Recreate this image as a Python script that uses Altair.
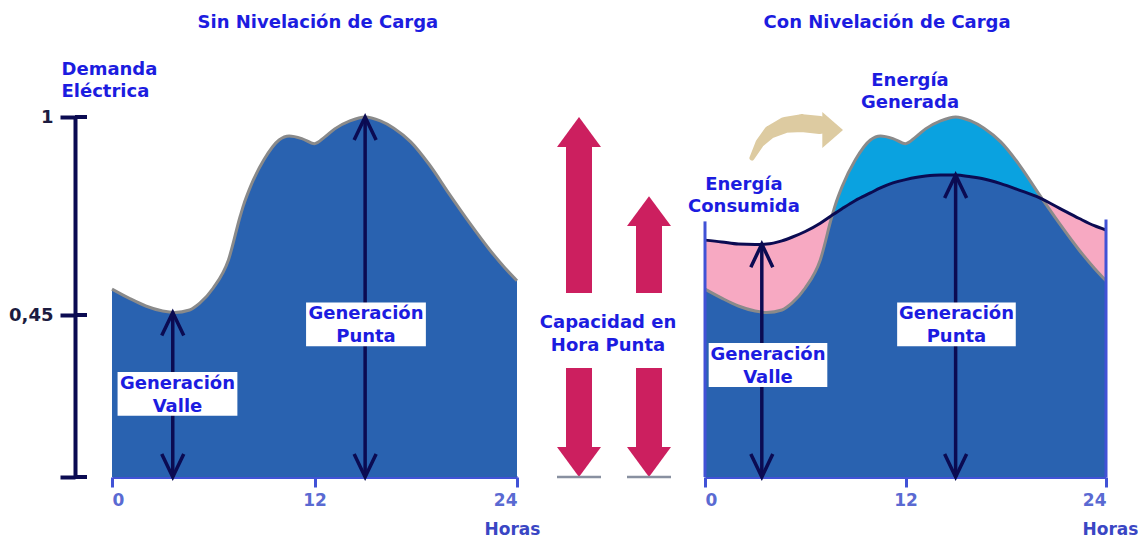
import altair as alt
import pandas as pd

# ---------------- data ----------------
hours = [0, 1, 2, 3, 3.7, 4.6, 5.2, 6.0, 6.9, 7.6, 7.8, 8.2, 9.0, 9.9, 10.5, 11.25,
         12.0, 12.6, 13.2, 14.1, 15.0, 15.9, 16.7, 17.7, 18.8, 20.0, 21.2, 22.4, 23.3, 24]
demand = [0.522, 0.497, 0.475, 0.461, 0.457, 0.464, 0.483, 0.525, 0.603, 0.725, 0.756,
          0.806, 0.881, 0.936, 0.947, 0.940, 0.926, 0.944, 0.967, 0.989, 1.000, 0.989,
          0.969, 0.931, 0.868, 0.785, 0.705, 0.630, 0.580, 0.545]
leveled = [0.658, 0.653, 0.647, 0.646, 0.647, 0.656, 0.666, 0.682, 0.705, 0.727, 0.733,
           0.745, 0.768, 0.789, 0.803, 0.817, 0.826, 0.832, 0.836, 0.839, 0.839, 0.834,
           0.828, 0.815, 0.797, 0.776, 0.747, 0.718, 0.698, 0.686]

y_ticks = [0, 0.45, 1]
x_ticks = [0, 12, 24]

# double arrows (hour, top value)
arrow_hours_left = [3.6, 15.0]
arrow_tops_left = [0.457, 1.0]
arrow_hours_right = [3.4, 15.0]
arrow_tops_right = [0.647, 0.839]

# peak-capacity arrows
cap_names = ["Sin nivelación", "Con nivelación"]
cap_values = [1.0, 0.78]

# labels
box_labels = ["Generación\nValle", "Generación\nPunta"]
box_hours_left = [3.88, 15.05]
box_hours_right = [3.77, 15.05]
box_vals_left = [0.231, 0.424]
box_vals_right = [0.311, 0.424]

# beige "shift" arrow (right panel)
shift_hours = [2.81, 3.29, 3.89, 4.79, 5.80, 6.88]
shift_vals = [0.886, 0.928, 0.958, 0.978, 0.983, 0.978]
shift_w = [5, 9, 13, 16, 18, 18]
shift_tip = (8.26, 0.964)

# ---------------- styles ----------------
FONT = "DejaVu Sans"
TXT = "#1c1ce0"
DARK = "#2962b0"
CYAN = "#0aa2e0"
PINK = "#f7a9c2"
OUTLINE = "#8a8a8a"
NAVY = "#0b0b52"
EDGE = "#4152d6"
MAG = "#cc1f5f"
BEIGE = "#ddcba1"
AXLAB = "#5a6ad2"
FS = 18
DY2 = -11.5  # centre a two-line block on its position

W_L, W_M, W_R, H = 405, 188, 401, 360
BOX_HW = 3.55   # half width of label boxes in hours
BOX_HH = 0.061  # half height in value units

xs = alt.Scale(domain=[0, 24], nice=False, zero=False)
ys = alt.Scale(domain=[0, 1], nice=False, zero=False)

UP_V = "M-1,2.1 L0,0 L1,2.1"
DN_V = "M-1,-2.1 L0,0 L1,-2.1"
UP_T = "M0,0 L1,1.36 L-1,1.36 Z"
DN_T = "M0,0 L1,-1.36 L-1,-1.36 Z"
RIGHT_T = "M0,0 L-1.15,-1 L-1.15,1 Z"

curve = pd.DataFrame({"hour": hours, "demand": demand, "leveled": leveled})


def make_x_axis(title_x):
    return alt.Axis(values=x_ticks, title="Horas", titleX=title_x, titleY=52,
                    titleAlign="center", titleBaseline="middle", titleColor="#3a46c4",
                    titleFont=FONT, titleFontSize=17, titleFontWeight="bold",
                    labelFont=FONT, labelFontSize=17, labelFontWeight="bold",
                    labelColor=AXLAB, labelPadding=5, domainColor=EDGE, domainWidth=3,
                    tickColor=EDGE, tickWidth=3, tickSize=10, grid=False)


Y_AXIS_LEFT = alt.Axis(values=y_ticks, offset=37, title=["Demanda", "Eléctrica"],
                       titleAngle=0, titleX=-14, titleY=-57, titleAlign="left",
                       titleBaseline="top", titleLineHeight=22, titleColor=TXT, titleFont=FONT,
                       titleFontSize=FS, titleFontWeight="bold",
                       labelExpr="datum.value == 0 ? '' : replace(format(datum.value, '~g'), '.', ',')",
                       labelFont=FONT, labelFontSize=18, labelFontWeight="bold",
                       labelColor="#1c1c40", labelPadding=7, domainColor=NAVY, domainWidth=4,
                       tickColor=NAVY, tickWidth=4, tickSize=15, grid=False)

AX = {"left": (make_x_axis(400), Y_AXIS_LEFT), "right": (make_x_axis(405), None)}


def X(field, panel):
    return alt.X(field, scale=xs, axis=AX[panel][0])


def Y(field, panel):
    return alt.Y(field, scale=ys, axis=AX[panel][1])


def panel_layers(panel, arrow_hours, arrow_tops, box_hours, box_vals):
    arrows = pd.DataFrame({"hour": arrow_hours, "top": arrow_tops,
                           "base": [0.0] * len(arrow_hours)})
    shafts = alt.Chart(arrows).mark_rule(color=NAVY, strokeWidth=3.5).encode(
        x=X("hour:Q", panel), y=Y("base:Q", panel), y2="top:Q")
    up = alt.Chart(arrows).mark_point(shape=UP_V, filled=False, size=484, color=NAVY,
                                      strokeWidth=3.5, opacity=1).encode(
        x=X("hour:Q", panel), y=Y("top:Q", panel))
    dn = alt.Chart(arrows).mark_point(shape=DN_V, filled=False, size=484, color=NAVY,
                                      strokeWidth=3.5, opacity=1).encode(
        x=X("hour:Q", panel), y=Y("base:Q", panel))
    boxes = pd.DataFrame({"label": box_labels, "cx": box_hours, "cy": box_vals})
    rect = alt.Chart(boxes).transform_calculate(
        x0=f"datum.cx - {BOX_HW}", x1=f"datum.cx + {BOX_HW}",
        y0=f"datum.cy - {BOX_HH}", y1=f"datum.cy + {BOX_HH}").mark_rect(
        color="white", opacity=1).encode(
        x=X("x0:Q", panel), x2="x1:Q", y=Y("y0:Q", panel), y2="y1:Q")
    text = alt.Chart(boxes).mark_text(font=FONT, fontSize=FS, fontWeight="bold", color=TXT,
                                      lineBreak="\n", lineHeight=23, align="center",
                                      baseline="middle", dy=DY2 + 1.5).encode(
        x=X("cx:Q", panel), y=Y("cy:Q", panel), text="label:N")
    return [shafts, up, dn, rect, text]


def label(panel, txt, hour, val):
    d = pd.DataFrame({"t": [txt], "h": [hour], "v": [val]})
    dy = DY2 if "\n" in txt else 0
    return alt.Chart(d).mark_text(font=FONT, fontSize=FS, fontWeight="bold", color=TXT,
                                  lineBreak="\n", lineHeight=22, align="center",
                                  baseline="middle", dy=dy).encode(
        x=X("h:Q", panel), y=Y("v:Q", panel), text="t:N")


# ---------------- left panel ----------------
area_l = alt.Chart(curve).mark_area(color=DARK, interpolate="monotone", opacity=1).encode(
    x=X("hour:Q", "left"), y=Y("demand:Q", "left"))
line_l = alt.Chart(curve).mark_line(color=OUTLINE, strokeWidth=3, interpolate="monotone").encode(
    x=X("hour:Q", "left"), y=Y("demand:Q", "left"))
stubs = alt.Chart(pd.DataFrame({"v": y_ticks})).mark_rule(color=NAVY, strokeWidth=4).encode(
    x=alt.value(-37), x2=alt.value(-25), y=Y("v:Q", "left"))

left = alt.layer(area_l, line_l, stubs,
                 *panel_layers("left", arrow_hours_left, arrow_tops_left,
                               box_hours_left, box_vals_left),
                 label("left", "Sin Nivelación de Carga", 12.2, 1.261)
                 ).properties(width=W_L, height=H)

# ---------------- middle (capacity arrows) ----------------
cap = pd.DataFrame({"name": cap_names, "cap": cap_values})
cap["up_lo"] = 0.511
cap["up_hi"] = cap["cap"] - 0.07
cap["dn_lo"] = 0.07
cap["dn_hi"] = 0.303
cap["zero"] = 0.0
xm = alt.X("name:N", scale=alt.Scale(type="point", domain=cap_names, range=[62, 132], padding=0),
           axis=None)


def ym(field):
    return alt.Y(field, scale=ys, axis=None)


mid_layers = [
    alt.Chart(cap).mark_rule(color=MAG, strokeWidth=26).encode(
        x=xm, y=ym("up_lo:Q"), y2="up_hi:Q"),
    alt.Chart(cap).mark_rule(color=MAG, strokeWidth=26).encode(
        x=xm, y=ym("dn_lo:Q"), y2="dn_hi:Q"),
    alt.Chart(cap).mark_point(shape=UP_T, filled=True, size=1936, color=MAG, opacity=1).encode(
        x=xm, y=ym("cap:Q")),
    alt.Chart(cap).mark_point(shape=DN_T, filled=True, size=1936, color=MAG, opacity=1).encode(
        x=xm, y=ym("zero:Q")),
    alt.Chart(cap).mark_tick(orient="horizontal", size=44, thickness=2.5, color="#8890a0",
                             opacity=1).encode(x=xm, y=ym("zero:Q")),
    alt.Chart(pd.DataFrame({"t": ["Capacidad en\nHora Punta"], "v": [0.396]})).mark_text(
        font=FONT, fontSize=FS, fontWeight="bold", color=TXT, lineBreak="\n", lineHeight=23,
        align="center", baseline="middle", dy=DY2).encode(
        x=alt.value(91), y=ym("v:Q"), text="t:N"),
]
middle = alt.layer(*mid_layers).properties(width=W_M, height=H)

# ---------------- right panel ----------------
rc = alt.Chart(curve).transform_calculate(
    lo="min(datum.demand, datum.leveled)", hi="max(datum.demand, datum.leveled)")
dark_r = rc.mark_area(color=DARK, interpolate="monotone", opacity=1).encode(
    x=X("hour:Q", "right"), y=Y("lo:Q", "right"))
pink_r = rc.mark_area(color=PINK, interpolate="monotone", opacity=1).encode(
    x=X("hour:Q", "right"), y=Y("lo:Q", "right"), y2="leveled:Q")
cyan_r = rc.mark_area(color=CYAN, interpolate="monotone", opacity=1).encode(
    x=X("hour:Q", "right"), y=Y("leveled:Q", "right"), y2="hi:Q")
line_r = alt.Chart(curve).mark_line(color=OUTLINE, strokeWidth=3, interpolate="monotone").encode(
    x=X("hour:Q", "right"), y=Y("demand:Q", "right"))
lev_r = alt.Chart(curve).mark_line(color=NAVY, strokeWidth=3, interpolate="monotone").encode(
    x=X("hour:Q", "right"), y=Y("leveled:Q", "right"))
edges = pd.DataFrame({"hour": [0, 24], "base": [0, 0], "top": [0.71, 0.715]})
edge_r = alt.Chart(edges).mark_rule(color=EDGE, strokeWidth=3).encode(
    x=X("hour:Q", "right"), y=Y("base:Q", "right"), y2="top:Q")
shift = pd.DataFrame({"hour": shift_hours, "v": shift_vals, "w": shift_w})
trail = alt.Chart(shift).mark_trail(color=BEIGE, opacity=1).encode(
    x=X("hour:Q", "right"), y=Y("v:Q", "right"),
    size=alt.Size("w:Q", scale=None, legend=None))
tip = alt.Chart(pd.DataFrame({"hour": [shift_tip[0]], "v": [shift_tip[1]]})).mark_point(
    shape=RIGHT_T, filled=True, size=1296, color=BEIGE, opacity=1).encode(
    x=X("hour:Q", "right"), y=Y("v:Q", "right"))

right = alt.layer(dark_r, pink_r, cyan_r, line_r, lev_r, edge_r,
                  *panel_layers("right", arrow_hours_right, arrow_tops_right,
                                box_hours_right, box_vals_right),
                  trail, tip,
                  label("right", "Energía\nGenerada", 12.27, 1.068),
                  label("right", "Energía\nConsumida", 2.33, 0.778),
                  label("right", "Con Nivelación de Carga", 10.9, 1.261)
                  ).properties(width=W_R, height=H)

chart = alt.hconcat(left, middle, right, spacing=0, bounds="flush").properties(
    padding={"left": 0, "top": 6, "right": 0, "bottom": 0}, background="white"
).configure_view(strokeWidth=0)

chart.save("out.html", embed_options={"renderer": "svg", "actions": False})
